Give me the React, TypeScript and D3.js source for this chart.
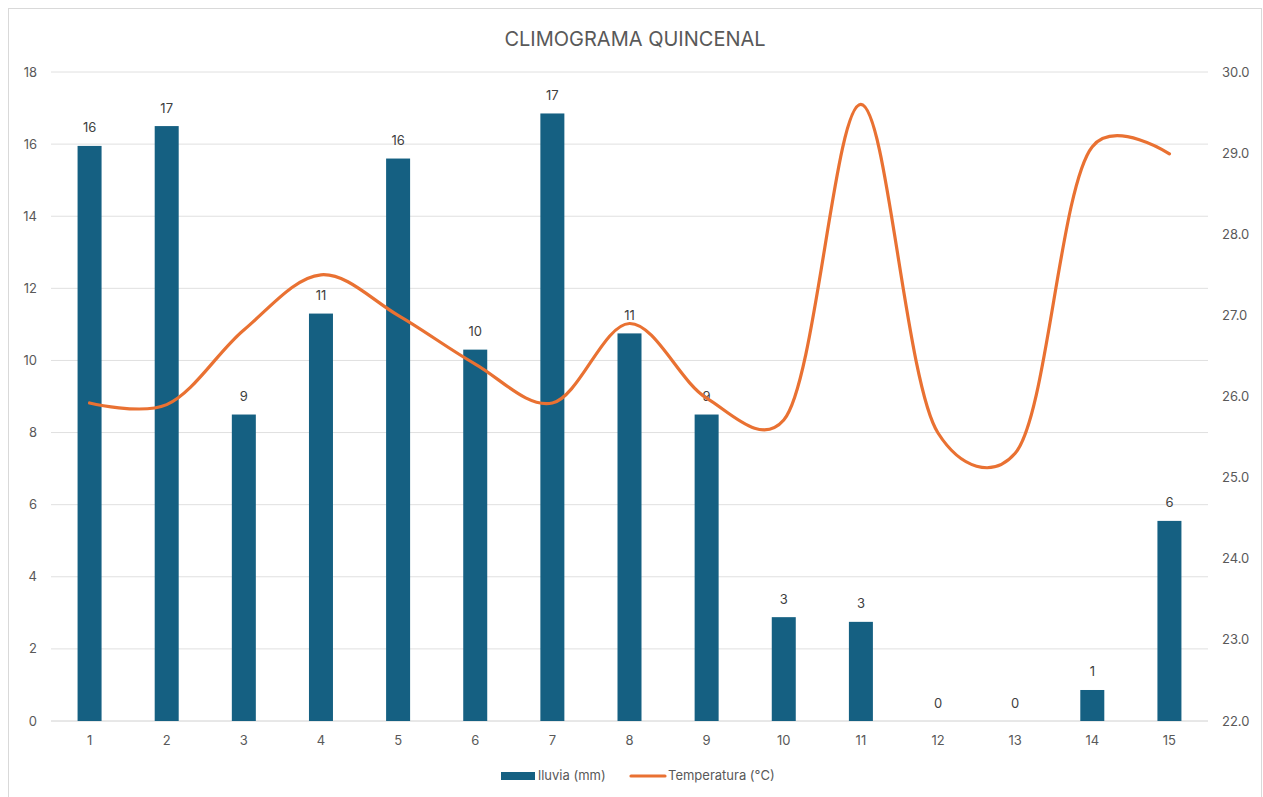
import React from 'react';
import * as d3 from 'd3';

const dias = ['1', '2', '3', '4', '5', '6', '7', '8', '9', '10', '11', '12', '13', '14', '15'];
const lluvia = [15.95, 16.5, 8.5, 11.3, 15.6, 10.3, 16.85, 10.75, 8.5, 2.88, 2.75, 0, 0, 0.86, 5.55];
const temperatura = [25.92, 25.9, 26.82, 27.5, 27.0, 26.4, 25.92, 26.9, 25.98, 25.71, 29.6, 25.55, 25.3, 29.08, 28.99];
const ticksIzq = [0, 2, 4, 6, 8, 10, 12, 14, 16, 18];
const ticksDer = [22, 23, 24, 25, 26, 27, 28, 29, 30];

const W = 1263;
const H = 797;
const font = 'Inter, "Open Sans", sans-serif';
const gris = '#595959';

export default function App() {
  const left = 51;
  const right = 1208;
  const top = 72;
  const bottom = 721;

  const x = d3.scaleBand().domain(dias).range([left, right]).paddingInner(0).paddingOuter(0);
  const yL = d3.scaleLinear().domain([0, 18]).range([bottom, top]);
  const yR = d3.scaleLinear().domain([22, 30]).range([bottom, top]);
  const barW = 24;
  const cx = (d: string) => (x(d) as number) + x.bandwidth() / 2;

  // curva suavizada parecida a la de Excel
  const line = d3
    .line<number>()
    .x((_, i) => cx(dias[i]))
    .y((d) => yR(d))
    .curve(d3.curveCatmullRom.alpha(0.25));

  return (
    <svg width={W} height={H} style={{ position: 'absolute', left: 0, top: 0 }} fontFamily={font}>
      <rect x={0} y={0} width={W} height={H} fill="#fff" />
      <rect x={8.5} y={8.5} width={1253} height={800} fill="#fff" stroke="#d9d9d9" />
      <text x={635} y={46} textAnchor="middle" fontSize={20} fill={gris}>
        CLIMOGRAMA QUINCENAL
      </text>
      {ticksIzq.map((t) => (
        <g key={'l' + t}>
          <line x1={left} x2={right} y1={yL(t)} y2={yL(t)} stroke={t === 0 ? '#d0d0d0' : '#e0e0e0'} strokeWidth={1} />
          <text x={37} y={yL(t) + 4.5} textAnchor="end" fontSize={13} fill={gris}>
            {t}
          </text>
        </g>
      ))}
      {ticksDer.map((t) => (
        <text key={'r' + t} x={1222} y={yR(t) + 4.5} fontSize={13} fill={gris}>
          {t.toFixed(1)}
        </text>
      ))}
      {dias.map((d, i) => (
        <g key={'b' + d}>
          <rect x={cx(d) - barW / 2} y={yL(lluvia[i])} width={barW} height={bottom - yL(lluvia[i])} fill="#156082" />
          <text x={cx(d)} y={yL(lluvia[i]) - 13.5} textAnchor="middle" fontSize={13} fill="#404040">
            {Math.round(lluvia[i])}
          </text>
          <text x={cx(d)} y={745} textAnchor="middle" fontSize={13} fill={gris}>
            {d}
          </text>
        </g>
      ))}
      <path d={line(temperatura) ?? ''} fill="none" stroke="#E97132" strokeWidth={3.2} strokeLinecap="round" />
      <rect x={501} y={772} width={34} height={8} fill="#156082" />
      <text x={538} y={780} fontSize={13} fill={gris}>
        lluvia (mm)
      </text>
      <line x1={631} x2={665} y1={776} y2={776} stroke="#E97132" strokeWidth={3.2} strokeLinecap="round" />
      <text x={668} y={780} fontSize={13} fill={gris}>
        Temperatura (°C)
      </text>
    </svg>
  );
}
